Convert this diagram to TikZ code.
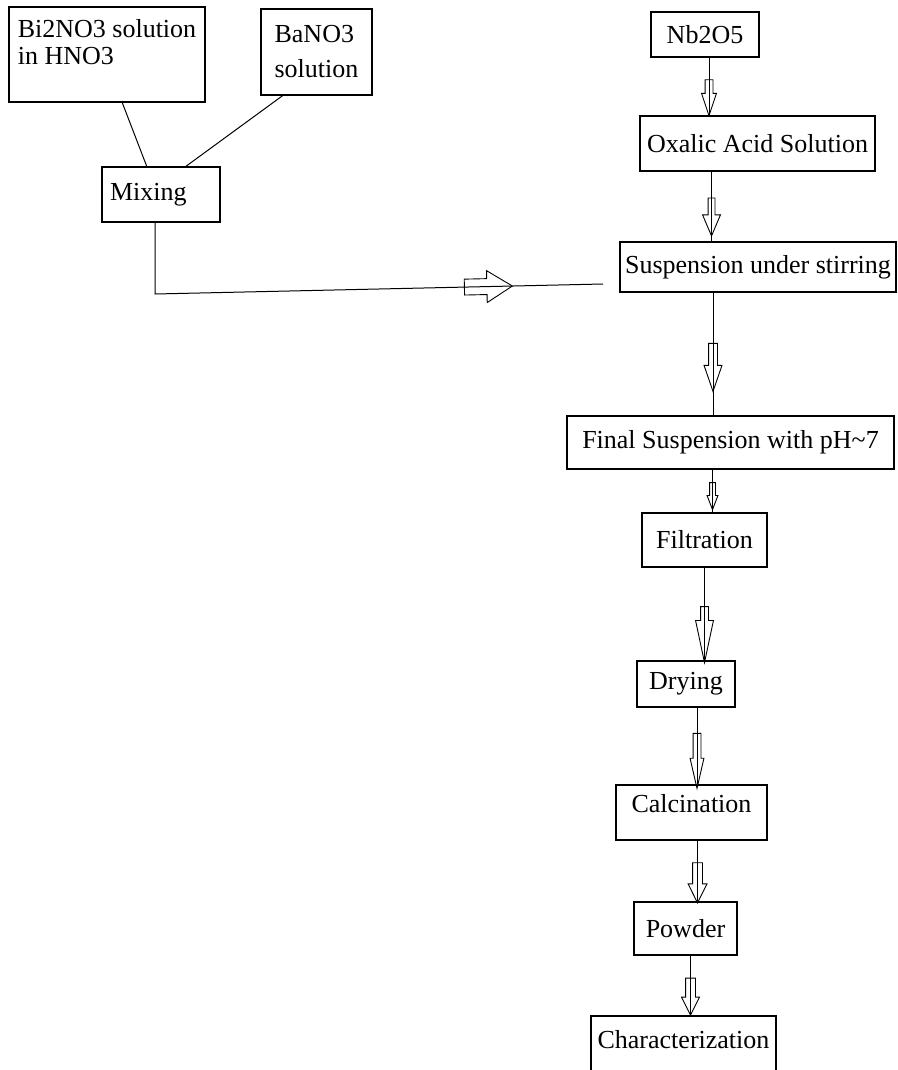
\documentclass[tikz,border=0pt]{standalone}
\usepackage{fontspec}
\setmainfont{Liberation Serif}
\usetikzlibrary{shapes.arrows}

\tikzset{
every picture/.style={
line width=1pt
}}

\begin{document}
\begin{tikzpicture}[x=1pt, y=-1pt,
block/.style = {rectangle, draw=black, line width=1.3pt, anchor=north west, outer sep=0pt, inner sep=2pt, align=center, font=\fontsize{26}{27}\selectfont},
harrow/.style n args={4}{single arrow, draw=black, line width=0.9pt, sloped, allow upside down, inner xsep=0pt, inner ysep=#2, single arrow head extend=#3, single arrow tip angle=#4, minimum height=#1, outer sep=0pt}]
\path[use as bounding box, fill=white] (0,0) rectangle (897,1070);

% left branch
\node[block, minimum width=196pt, minimum height=95pt, align=left, text height=21pt, text depth=0pt] at (9,7) (bi) {Bi2NO3 solution\\in HNO3};
\node[block, minimum width=111pt, minimum height=86pt, align=left] at (261,9) (ba) {BaNO3\\[8pt]solution};
\node[block, minimum width=118pt, minimum height=55pt, text width=102pt, inner xsep=8pt, align=left] at (102,167) (mix) {Mixing};

% main column
\node[block, minimum width=108pt, minimum height=45pt] at (651,12) (nb) {Nb2O5};
\node[block, minimum width=235pt, minimum height=55pt] at (640,116) (ox) {Oxalic Acid Solution};
\node[block, minimum width=276pt, minimum height=50pt] at (620,242) (sus) {Suspension under stirring};
\node[block, minimum width=327pt, minimum height=53pt] at (567,416) (fin) {Final Suspension with pH\textasciitilde7};
\node[block, minimum width=125pt, minimum height=54pt] at (642,513) (fil) {Filtration};
\node[block, minimum width=98pt, minimum height=46pt] at (637,661) (dry) {Drying};
\node[block, minimum width=151pt, minimum height=55pt, text height=18pt, text depth=18pt] at (616,785) (cal) {Calcination};
\node[block, minimum width=103pt, minimum height=53pt] at (634,902) (pow) {Powder};
\node[block, minimum width=185pt, minimum height=60pt, text height=18pt, text depth=14pt] at (591,1016) (cha) {Characterization};

\draw[-] ([xshift=15pt]bi.south) -- ([xshift=-14pt]mix.north);
\draw[-] ([xshift=-33pt]ba.south) -- ([xshift=24pt]mix.north);
\draw[-] ([xshift=-6pt]mix.south) -- ++(0,72) coordinate (bend)
  -- node[harrow={48pt}{7.5pt}{8pt}{64}, pos=0.73] {} ([shift={(-17,-8)}]sus.south west);

\draw[-] ([xshift=4pt]nb.south) coordinate (t1) -- node[harrow={36pt}{3.5pt}{3.5pt}{37}, pos=0.59] {} (t1 |- ox.north);
\draw[-] ([xshift=-46pt]ox.south) coordinate (t2) -- node[harrow={38pt}{3pt}{5.5pt}{46}, pos=0.59] {} (t2 |- sus.north);
\draw[-] ([xshift=-45pt]sus.south) coordinate (t3) -- node[harrow={48pt}{4pt}{4.5pt}{38}, pos=0.556] {} (t3 |- fin.north);
\draw[-] ([xshift=-18pt]fin.south) coordinate (t4) -- node[harrow={27pt}{2.5pt}{2.5pt}{42}, pos=0.53] {} (t4 |- fil.north);
\draw[-] (fil.south) coordinate (t5) -- node[harrow={56pt}{3.5pt}{5pt}{24}, pos=0.62] {} (t5 |- dry.north);
\draw[-] ([xshift=11pt]dry.south) coordinate (t6) -- node[harrow={55pt}{3.5pt}{3pt}{26}, pos=0.58] {} (t6 |- cal.north);
\draw[-] ([xshift=6pt]cal.south) coordinate (t7) -- node[harrow={40pt}{4.5pt}{4.5pt}{53}, pos=0.61] {} (t7 |- pow.north);
\draw[-] ([xshift=5pt]pow.south) coordinate (t8) -- node[harrow={37pt}{4.5pt}{4pt}{53}, pos=0.6] {} (t8 |- cha.north);
\end{tikzpicture}
\end{document}
